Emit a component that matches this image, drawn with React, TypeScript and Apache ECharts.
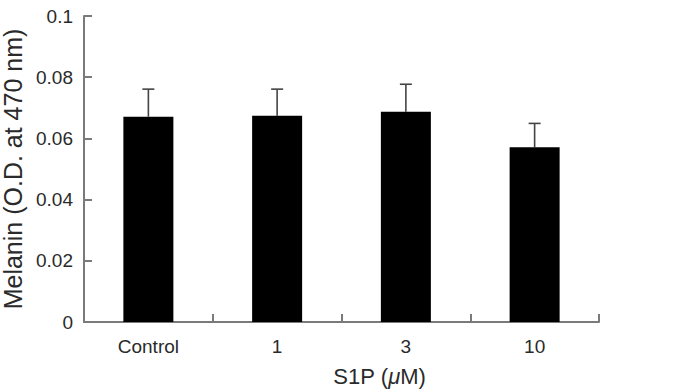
import React, { useEffect, useRef } from "react";
import * as echarts from "echarts";

const categories = ["Control", "1", "3", "10"];
const means = [0.0671, 0.0674, 0.0687, 0.0571];
const errors = [0.009, 0.0087, 0.009, 0.0078];
const yTicks = [0, 0.02, 0.04, 0.06, 0.08, 0.1];

const FONT = "'Liberation Sans', Arial, sans-serif";
const AXIS_COLOR = "#7a7a7a";
const TEXT_COLOR = "#2a2a2a";

export default function App() {
  const ref = useRef<HTMLDivElement>(null);
  useEffect(() => {
    if (!ref.current) return;
    const chart = echarts.init(ref.current, undefined, { renderer: "svg" });
    const errData = categories.map((_, i) => [i, means[i], means[i] + errors[i]]);
    chart.setOption({
      animation: false,
      backgroundColor: "#ffffff",
      grid: { left: 84, right: 83, top: 16, bottom: 68, containLabel: false, outerBoundsMode: "none" },
      xAxis: {
        type: "category",
        data: categories,
        boundaryGap: true,
        name: "S1P ({mu|\u03bc}M)",
        nameLocation: "middle",
        nameGap: 43,
        nameTextStyle: {
          fontFamily: FONT,
          fontSize: 22,
          color: TEXT_COLOR,
          padding: [0, 0, 0, 76],
          rich: { mu: { fontFamily: FONT, fontSize: 22, fontStyle: "italic", color: TEXT_COLOR } },
        },
        axisLine: { lineStyle: { color: AXIS_COLOR, width: 2 } },
        axisTick: { show: true, inside: true, length: 8, alignWithLabel: false, lineStyle: { color: AXIS_COLOR, width: 2 } },
        axisLabel: { fontFamily: FONT, fontSize: 19, color: TEXT_COLOR, margin: 15 },
        splitLine: { show: false },
      },
      yAxis: {
        type: "value",
        min: 0,
        max: 0.1,
        interval: 0.02,
        name: "Melanin (O.D. at 470 nm)",
        nameLocation: "middle",
        nameGap: 53,
        nameTextStyle: { fontFamily: FONT, fontSize: 25, color: TEXT_COLOR },
        axisLine: { show: true, lineStyle: { color: AXIS_COLOR, width: 2 } },
        axisTick: { show: true, inside: true, length: 8, lineStyle: { color: AXIS_COLOR, width: 2 } },
        axisLabel: {
          fontFamily: FONT,
          fontSize: 19,
          color: TEXT_COLOR,
          margin: 11,
          formatter: (v: number) => {
            const found = yTicks.find((t) => Math.abs(t - v) < 1e-9);
            return found === undefined ? "" : String(found);
          },
        },
        splitLine: { show: false },
      },
      series: [
        {
          type: "bar",
          data: means,
          barWidth: 50,
          itemStyle: { color: "#000000" },
          z: 2,
        },
        {
          type: "custom",
          data: errData,
          z: 1,
          renderItem: (params: any, api: any) => {
            const i = api.value(0);
            const lo = api.coord([i, api.value(1)]);
            const hi = api.coord([i, api.value(2)]);
            const half = 6;
            return {
              type: "group",
              children: [
                {
                  type: "line",
                  shape: { x1: lo[0], y1: lo[1], x2: hi[0], y2: hi[1] },
                  style: { stroke: "#444444", lineWidth: 1.6 },
                },
                {
                  type: "line",
                  shape: { x1: hi[0] - half, y1: hi[1], x2: hi[0] + half, y2: hi[1] },
                  style: { stroke: "#444444", lineWidth: 1.6 },
                },
              ],
            };
          },
        },
      ],
    });
    return () => chart.dispose();
  }, []);
  return <div ref={ref} style={{ width: 682, height: 390, position: "absolute", left: 0, top: 0 }} />;
}
